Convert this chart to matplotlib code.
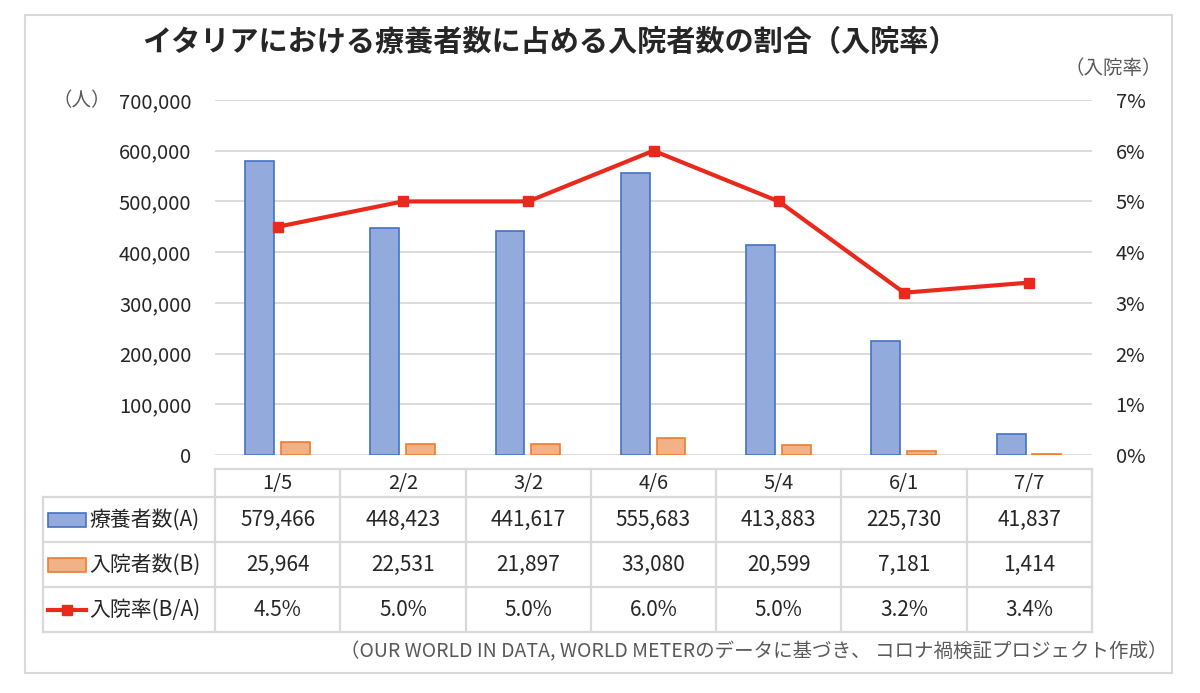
import matplotlib
matplotlib.use("Agg")
import matplotlib.pyplot as plt
from matplotlib.patches import Rectangle
from matplotlib.ticker import FuncFormatter

plt.rcParams['font.family'] = ['Noto Sans CJK JP', 'DejaVu Sans']

# data
dates = ["1/5", "2/2", "3/2", "4/6", "5/4", "6/1", "7/7"]
ryoyo = [579466, 448423, 441617, 555683, 413883, 225730, 41837]      # 療養者数(A)
nyuin = [25964, 22531, 21897, 33080, 20599, 7181, 1414]              # 入院者数(B)
rate = [4.5, 5.0, 5.0, 6.0, 5.0, 3.2, 3.4]                           # 入院率(B/A) %
row_labels = ["療養者数(A)", "入院者数(B)", "入院率(B/A)"]

BLUE_FILL, BLUE_EDGE = "#92AADC", "#4472C4"
ORG_FILL, ORG_EDGE = "#F2B287", "#ED7D31"
RED = "#E8291C"
GRID = "#D9D9D9"
TXT = "#262626"

W, H = 1200, 693
fig = plt.figure(figsize=(W / 100, H / 100), dpi=100)

# outer frame
fig.patches.append(Rectangle((25 / W, 1 - 673 / H), (1172 - 25) / W, (673 - 15) / H,
                             transform=fig.transFigure, fill=False,
                             edgecolor=GRID, lw=1.5))

px_l, px_r, px_t, px_b = 215, 1092, 100, 455
ax = fig.add_axes([px_l / W, 1 - px_b / H, (px_r - px_l) / W, (px_b - px_t) / H])
x = list(range(len(dates)))
bw = 0.23
ax.bar([i - 0.145 for i in x], ryoyo, width=bw, color=BLUE_FILL,
       edgecolor=BLUE_EDGE, lw=1.2, zorder=3)
ax.bar([i + 0.14 for i in x], nyuin, width=bw, color=ORG_FILL,
       edgecolor=ORG_EDGE, lw=1.2, zorder=3)
ax.set_xlim(-0.5, len(dates) - 0.5)
ax.set_ylim(0, 700000)
ax.set_yticks(range(0, 700001, 100000))
ax.yaxis.set_major_formatter(FuncFormatter(lambda v, p: f"{int(v):,}"))
ax.yaxis.grid(True, color=GRID, lw=1.3, zorder=0)
ax.set_xticks([])
for s in ax.spines.values():
    s.set_visible(False)
ax.tick_params(axis='y', length=0, pad=17, labelsize=14.5, labelcolor=TXT)

ax2 = ax.twinx()
ax2.plot(x, rate, color=RED, lw=3, marker='s', markersize=7, zorder=5)
ax2.set_ylim(0, 7)
ax2.set_yticks(range(0, 8))
ax2.yaxis.set_major_formatter(FuncFormatter(lambda v, p: f"{int(v)}%"))
for s in ax2.spines.values():
    s.set_visible(False)
ax2.tick_params(axis='y', length=0, pad=17, labelsize=14.5, labelcolor=TXT)
ax2.set_xlim(-0.5, len(dates) - 0.5)

# title and unit labels
fig.text(550 / W, 1 - 42 / H, "イタリアにおける療養者数に占める入院者数の割合（入院率）",
         ha='center', va='center', fontsize=21, fontweight='bold', color=TXT)
fig.text(111 / W, 1 - 101 / H, "（人）", ha='right', va='center',
         fontsize=14, color="#595959")
fig.text(1162 / W, 1 - 68 / H, "（入院率）", ha='right', va='center',
         fontsize=14, color="#595959")

# data table in pixel coordinates
tb = fig.add_axes([0, 0, 1, 1])
tb.set_xlim(0, W)
tb.set_ylim(H, 0)
tb.axis('off')

colw = (px_r - px_l) / len(dates)
col_edges = [px_l + i * colw for i in range(len(dates) + 1)]
row_edges = [469, 497, 542, 587, 632]
lkw = dict(color=GRID, lw=1.6)

# header row
tb.plot([px_l, px_r], [row_edges[0], row_edges[0]], **lkw)
for xe in col_edges:
    tb.plot([xe, xe], [row_edges[0], row_edges[-1]], **lkw)
tb.plot([43, 43], [row_edges[1], row_edges[-1]], **lkw)
for ye in row_edges[1:]:
    tb.plot([43, px_r], [ye, ye], **lkw)

for i, d in enumerate(dates):
    tb.text(col_edges[i] + colw / 2, (row_edges[0] + row_edges[1]) / 2, d,
            ha='center', va='center', fontsize=14.5, color=TXT)

rows = [[f"{v:,}" for v in ryoyo],
        [f"{v:,}" for v in nyuin],
        [f"{v:.1f}%" for v in rate]]
for r, vals in enumerate(rows):
    yc = (row_edges[r + 1] + row_edges[r + 2]) / 2
    for i, s in enumerate(vals):
        tb.text(col_edges[i] + colw / 2, yc, s, ha='center', va='center',
                fontsize=15, color=TXT)
    tb.text(89, yc, row_labels[r], ha='left', va='center', fontsize=15, color=TXT)

# legend keys
y1 = (row_edges[1] + row_edges[2]) / 2
y2 = (row_edges[2] + row_edges[3]) / 2
y3 = (row_edges[3] + row_edges[4]) / 2
tb.add_patch(Rectangle((48, y1 - 7), 38, 14, facecolor=BLUE_FILL, edgecolor=BLUE_EDGE, lw=1.2))
tb.add_patch(Rectangle((48, y2 - 7), 38, 14, facecolor=ORG_FILL, edgecolor=ORG_EDGE, lw=1.2))
tb.plot([48, 86], [y3, y3], color=RED, lw=3)
tb.plot([67], [y3], color=RED, marker='s', markersize=7)

# source note
fig.text(1168 / W, 1 - 652 / H,
         "（OUR WORLD IN DATA, WORLD METERのデータに基づき、 コロナ禍検証プロジェクト作成）",
         ha='right', va='center', fontsize=14, color="#595959")

fig.savefig("out.png", dpi=100)
